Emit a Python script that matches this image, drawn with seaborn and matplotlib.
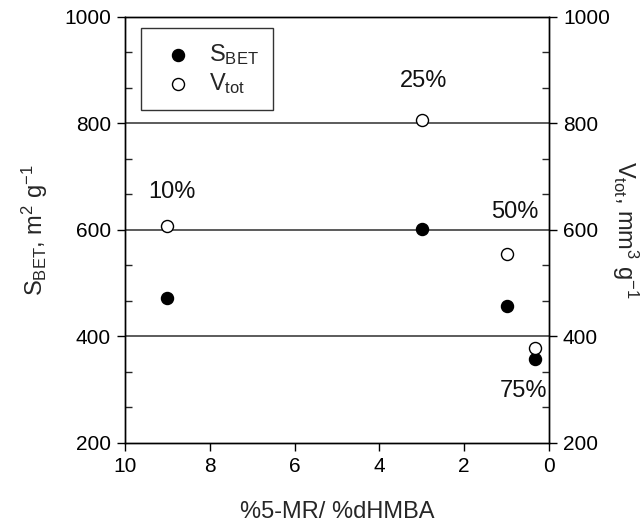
import matplotlib
matplotlib.use("Agg")
import matplotlib.pyplot as plt
from matplotlib.ticker import AutoMinorLocator, MultipleLocator
import seaborn as sns
import pandas as pd

# Data
ratio = [9.0, 3.0, 1.0, 0.333]          # %5-MR / %dHMBA
s_bet = [472, 601, 457, 357]            # m2 g-1
v_tot = [607, 806, 554, 378]            # mm3 g-1
pct_labels = ["10%", "25%", "50%", "75%"]
label_x = [8.9, 2.95, 0.80, 0.61]
label_y = [672, 880, 634, 298]

sns.set_theme(style="ticks")
plt.rcParams['font.family'] = ['Liberation Sans', 'DejaVu Sans']
plt.rcParams['mathtext.fontset'] = 'custom'
plt.rcParams['mathtext.rm'] = 'Liberation Sans'
plt.rcParams['mathtext.it'] = 'Liberation Sans'

FS = 17
TS = 15
df = pd.DataFrame({"ratio": ratio, "S": s_bet, "V": v_tot})

fig = plt.figure(figsize=(6.44, 5.24), dpi=100)
ax = fig.add_axes([0.194, 0.1546, 0.6585, 0.813])

for yv in [400, 600, 800]:
    ax.axhline(yv, color="#404040", lw=1.2, zorder=1)

sns.scatterplot(data=df, x="ratio", y="S", ax=ax, color="black", edgecolor="black",
                s=75, linewidth=1, zorder=3, label=r"S$_\mathregular{BET}$")
sns.scatterplot(data=df, x="ratio", y="V", ax=ax, color="white", edgecolor="black",
                s=75, linewidth=1, zorder=3, label=r"V$_\mathregular{tot}$")

for t, xx, yy in zip(pct_labels, label_x, label_y):
    ax.text(xx, yy, t, ha="center", va="center", fontsize=FS, color="#111111")

ax.set_xlim(10, 0)
ax.set_ylim(200, 1000)
ax.xaxis.set_major_locator(MultipleLocator(2))
ax.yaxis.set_major_locator(MultipleLocator(200))
ax.yaxis.set_minor_locator(AutoMinorLocator(3))

ax.set_xlabel("%5-MR/ %dHMBA", fontsize=FS, labelpad=18)
ax.set_ylabel(r"S$_\mathregular{BET}$, m$^\mathregular{2}$ g$^\mathregular{-1}$", fontsize=FS, labelpad=10)

for sp in ax.spines.values():
    sp.set_color("black")
    sp.set_linewidth(1)
ax.tick_params(axis="both", which="major", direction="out", length=6, width=1,
               labelsize=TS, colors="black", pad=4)
ax.tick_params(axis="y", which="minor", direction="in", length=5, width=1)

ax2 = ax.twinx()
ax2.set_ylim(200, 1000)
ax2.yaxis.set_major_locator(MultipleLocator(200))
ax2.yaxis.set_minor_locator(AutoMinorLocator(3))
ax2.tick_params(axis="y", which="major", direction="out", length=6, width=1,
                labelsize=TS, colors="black", pad=4)
ax2.tick_params(axis="y", which="minor", direction="in", length=5, width=1)
ax2.set_ylabel(r"V$_\mathregular{tot}$, mm$^\mathregular{3}$ g$^\mathregular{-1}$",
               fontsize=FS, rotation=270, labelpad=22)
for sp in ax2.spines.values():
    sp.set_color("black")
    sp.set_linewidth(1)

leg = ax.legend(loc="upper left", bbox_to_anchor=(0.037, 0.975), fontsize=FS,
                frameon=True, fancybox=False, edgecolor="black", borderpad=0.6,
                handletextpad=0.3, labelspacing=0.2, borderaxespad=0)
leg.get_frame().set_linewidth(1)

fig.savefig("out.png", dpi=100)
